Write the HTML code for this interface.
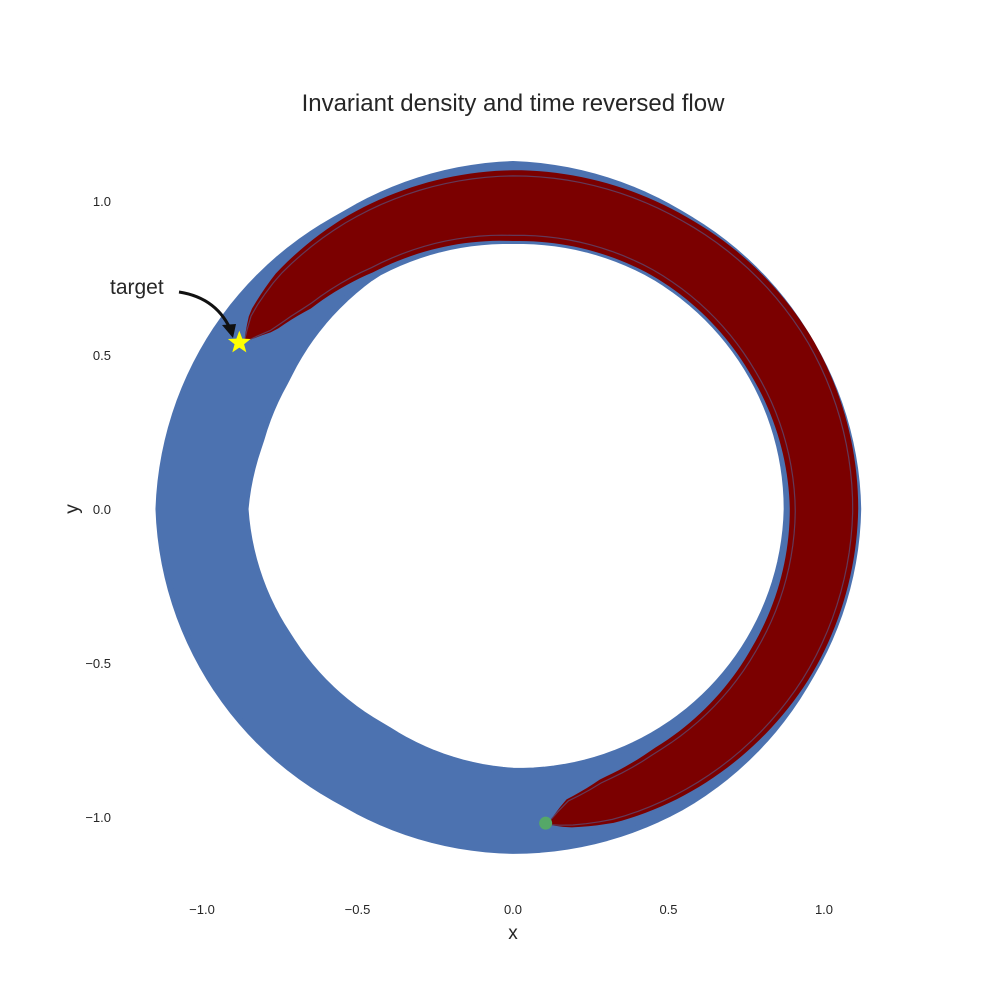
<!DOCTYPE html>
<html><head><meta charset="utf-8"><style>
body{margin:0;background:#fff;}
text{font-family:"Liberation Sans",sans-serif;fill:#262626;}
</style></head><body>
<svg id="chart" width="1000" height="1000" xmlns="http://www.w3.org/2000/svg">
<text x="513" y="111" font-size="24" text-anchor="middle">Invariant density and time reversed flow</text>
<g id="blue"></g>
<g id="red"></g>
<g id="ticks"></g>
<text x="513" y="939" font-size="19" text-anchor="middle">x</text>
<text x="72" y="509" font-size="19" text-anchor="middle" transform="rotate(-90 72 509)" dy="6">y</text>
<text x="110" y="294" font-size="21">target</text>
<path d="M179,292 Q218,298 232,333" fill="none" stroke="#111" stroke-width="3"/>
<path d="M233,338 L222,325 L236,324 Z" fill="#111"/>
<g id="marks"></g>
</svg>
<script>
const xTicks=[-1.0,-0.5,0.0,0.5,1.0];
const yTicks=[1.0,0.5,0.0,-0.5,-1.0];
const blueAngles=[0,30,60,90,120,150,165,180,210,240,270,300,330,360];
const blueInner=[0.88,0.88,0.88,0.87,0.88,0.84,0.84,0.86,0.83,0.82,0.85,0.86,0.87,0.88];
const blueOuter=[1.11,1.10,1.10,1.12,1.10,1.12,1.13,1.14,1.12,1.10,1.11,1.11,1.10,1.11];
const redAngles=[148,143,135,120,90,60,30,0,-30,-60,-72,-80,-84];
const redInner=[1.02,0.96,0.92,0.89,0.87,0.88,0.88,0.89,0.89,0.90,0.92,0.96,1.03];
const redOuter=[1.02,1.06,1.08,1.09,1.10,1.10,1.11,1.11,1.10,1.08,1.07,1.05,1.03];
const target=[-0.88,0.54];
const start=[0.105,-1.02];
const sx=v=>513+311*v, sy=v=>509-308*v;
const NS="http://www.w3.org/2000/svg";
function pt(a,r){const t=a*Math.PI/180;return [sx(r*Math.cos(t)),sy(r*Math.sin(t))];}
function interp(A,R,a){for(let i=0;i<A.length-1;i++){const a0=A[i],a1=A[i+1];if((a-a0)*(a-a1)<=0){const f=a1===a0?0:(a-a0)/(a1-a0);return R[i]+f*(R[i+1]-R[i]);}}return R[R.length-1];}
function band(A,I,O){const a0=A[0],a1=A[A.length-1],n=160;let o=[],inn=[];for(let k=0;k<=n;k++){const a=a0+(a1-a0)*k/n;o.push(pt(a,interp(A,O,a)));inn.push(pt(a,interp(A,I,a)));}
return 'M'+o.map(p=>p.join(',')).join('L')+'L'+inn.reverse().map(p=>p.join(',')).join('L')+'Z';}
const blue=document.getElementById('blue');
let p=document.createElementNS(NS,'path');
p.setAttribute('d',band(blueAngles,blueInner,blueOuter));p.setAttribute('fill','#4c72b0');p.setAttribute('stroke','#4c72b0');p.setAttribute('stroke-width','6');p.setAttribute('stroke-linejoin','round');


blue.appendChild(p);
const red=document.getElementById('red');
p=document.createElementNS(NS,'path');
p.setAttribute('d',band(redAngles,redInner,redOuter));p.setAttribute('fill','#7b0000');


red.appendChild(p);
[0.08,0.92].forEach(f=>{const I=redInner.map((v,i)=>v+(redOuter[i]-v)*f);let d='';for(let k=0;k<=100;k++){const a=148+(-84-148)*k/100;const q=pt(a,interp(redAngles,I,a));d+=(k?'L':'M')+q.join(',');}
const l=document.createElementNS(NS,'path');l.setAttribute('d',d);l.setAttribute('fill','none');l.setAttribute('stroke','#4c72b0');l.setAttribute('stroke-width','1.2');l.setAttribute('opacity','0.5');


red.appendChild(l);});
const tk=document.getElementById('ticks');
xTicks.forEach(v=>{const t=document.createElementNS(NS,'text');t.setAttribute('x',sx(v));t.setAttribute('y',914);t.setAttribute('font-size','13');t.setAttribute('text-anchor','middle');t.textContent=v.toFixed(1).replace('-','\u2212');


tk.appendChild(t);});
yTicks.forEach(v=>{const t=document.createElementNS(NS,'text');t.setAttribute('x',111);t.setAttribute('y',sy(v)+5);t.setAttribute('font-size','13');t.setAttribute('text-anchor','end');t.textContent=v.toFixed(1).replace('-','\u2212');


tk.appendChild(t);});
const m=document.getElementById('marks');
const c=document.createElementNS(NS,'circle');c.setAttribute('cx',sx(start[0]));c.setAttribute('cy',sy(start[1]));c.setAttribute('r',6.5);c.setAttribute('fill','#55a868');


m.appendChild(c);
const cx=sx(target[0]),cy=sy(target[1]);let d='';for(let k=0;k<10;k++){const r=k%2?5:12,a=-Math.PI/2+k*Math.PI/5;d+=(k?'L':'M')+(cx+r*Math.cos(a))+','+(cy+r*Math.sin(a));}
const s=document.createElementNS(NS,'path');s.setAttribute('d',d+'Z');s.setAttribute('fill','#ffff00');


m.appendChild(s);
</script>
</body></html>
